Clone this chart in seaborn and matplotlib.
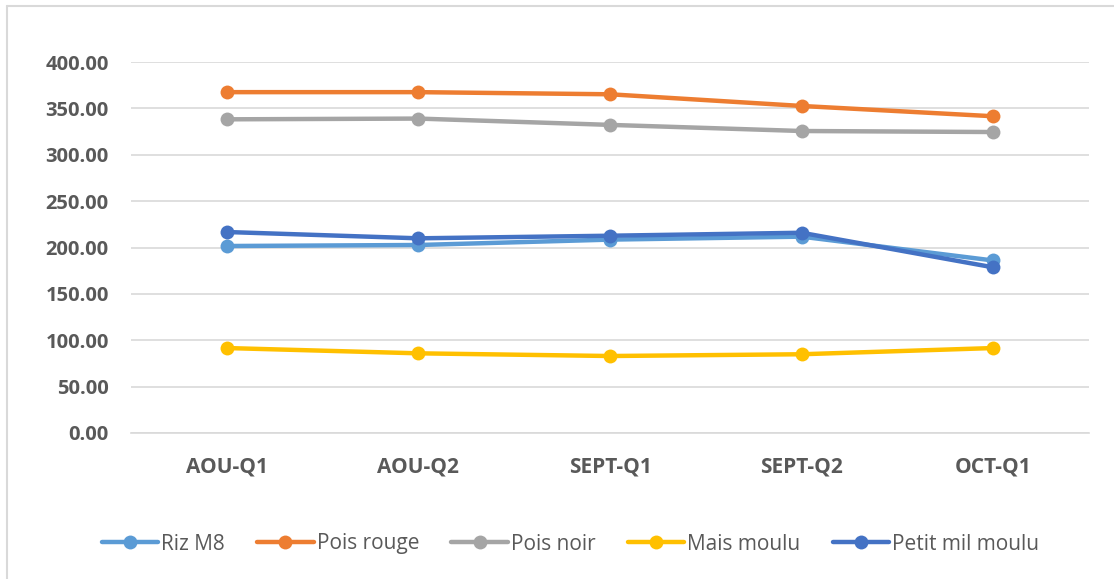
import numpy as np
import pandas as pd
import matplotlib
matplotlib.use("Agg")
import matplotlib.pyplot as plt
from matplotlib.lines import Line2D
import seaborn as sns

periods = ["AOU-Q1", "AOU-Q2", "SEPT-Q1", "SEPT-Q2", "OCT-Q1"]
series_names = ["Riz M8", "Pois rouge", "Pois noir", "Mais moulu", "Petit mil moulu"]
riz_m8 = [201.6, 202.7, 208.5, 211.7, 186.0]
pois_rouge = [367.5, 367.5, 365.2, 352.6, 341.5]
pois_noir = [338.2, 339.0, 332.2, 325.6, 324.5]
mais_moulu = [91.6, 85.9, 83.0, 84.9, 91.6]
petit_mil = [216.7, 209.9, 212.7, 215.9, 178.6]
yticks = [0, 50, 100, 150, 200, 250, 300, 350, 400]
colors = ["#5B9BD5", "#ED7D31", "#A5A5A5", "#FFC000", "#4472C4"]

values = [riz_m8, pois_rouge, pois_noir, mais_moulu, petit_mil]
rows = []
for name, vals in zip(series_names, values):
    for i, (p, v) in enumerate(zip(periods, vals)):
        rows.append({"period": p, "idx": i, "series": name, "value": v})
df = pd.DataFrame(rows)

sns.set_theme(style="white")
plt.rcParams["font.family"] = ["Open Sans", "DejaVu Sans"]

fig = plt.figure(figsize=(11.14, 5.79), dpi=100)
ax = fig.add_axes([131 / 1114, 1 - 433 / 579, (1089 - 131) / 1114, (433 - 62) / 579])

sns.lineplot(data=df, x="idx", y="value", hue="series", hue_order=series_names,
             palette=colors, marker="o", markersize=10, markeredgewidth=0,
             linewidth=3.2, ax=ax, legend=False, sort=False)

ax.set_xlim(-0.5, len(periods) - 0.5)
ax.set_ylim(0, 400)
ax.set_yticks(yticks)
ax.set_yticklabels([f"{t:.2f}" for t in yticks])
ax.set_xticks(range(len(periods)))
ax.set_xticklabels(periods)
ax.set_xlabel("")
ax.set_ylabel("")
ax.grid(axis="y", color="#D9D9D9", linewidth=1.2)
ax.set_axisbelow(True)
for s in ["left", "right", "top"]:
    ax.spines[s].set_visible(False)
ax.spines["bottom"].set_color("#D9D9D9")
ax.spines["bottom"].set_linewidth(1.2)
ax.tick_params(axis="both", length=0, colors="#595959")
ax.tick_params(axis="y", pad=16, labelsize=14.5)
ax.tick_params(axis="x", pad=17, labelsize=15)
for lab in ax.get_xticklabels() + ax.get_yticklabels():
    lab.set_fontweight("bold")

handles = [Line2D([0], [0], color=c, linewidth=3.2, marker="o", markersize=10,
                  markeredgewidth=0) for c in colors]
fig.legend(handles, series_names, loc="center", bbox_to_anchor=(0.512, 1 - 544 / 579),
           ncol=5, frameon=False, fontsize=15, handlelength=2.7, handletextpad=0.15,
           columnspacing=1.55, labelcolor="#595959")

# chart-area border (left and top edges visible in reference)
fig.add_artist(Line2D([7 / 1114, 7 / 1114], [0, 1 - 6 / 579], transform=fig.transFigure,
                      color="#D9D9D9", linewidth=1.5))
fig.add_artist(Line2D([7 / 1114, 1], [1 - 6 / 579, 1 - 6 / 579], transform=fig.transFigure,
                      color="#D9D9D9", linewidth=1.5))

fig.savefig("out.png", dpi=100)
